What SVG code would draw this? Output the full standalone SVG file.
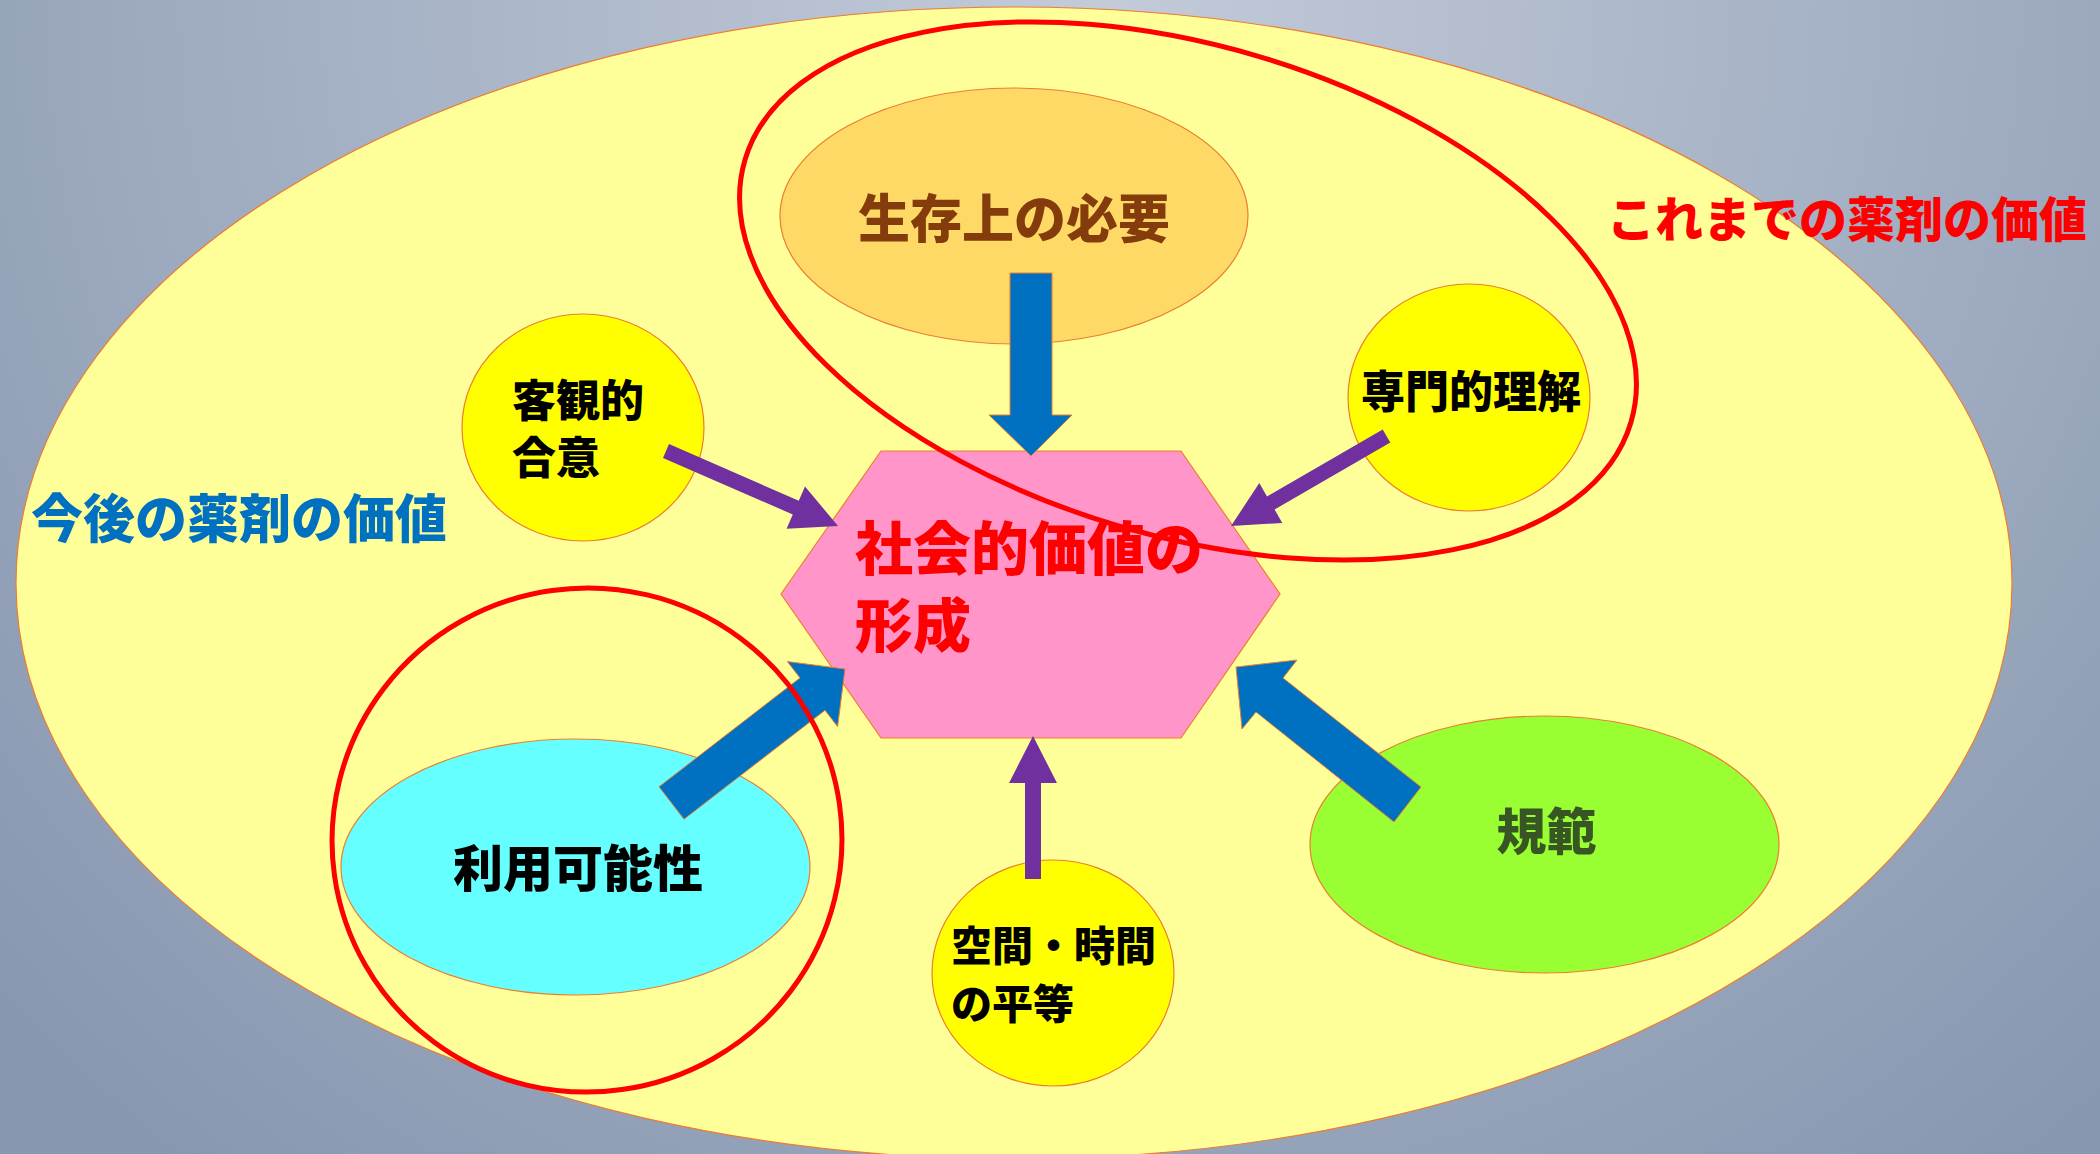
<svg xmlns="http://www.w3.org/2000/svg" width="2100" height="1154" viewBox="0 0 2100 1154">
  <defs>
    <radialGradient id="bg" cx="1100" cy="0" r="1500" gradientUnits="userSpaceOnUse">
      <stop offset="0" stop-color="#c3cbd9"/>
      <stop offset="1" stop-color="#8797b0"/>
    </radialGradient>
    <style>
      .shape { stroke: #ed7d31; stroke-width: 1.2; }
      .blue { fill: #0070c0; stroke: #ed7d31; stroke-width: 1; }
      .purple { fill: #7030a0; }
      .ring { fill: none; stroke: #ff0000; stroke-width: 5; }
      text { font-family: "Noto Sans CJK JP", "Noto Sans CJK SC", sans-serif; font-weight: 900; }
    </style>
  </defs>

  <rect x="0" y="0" width="2100" height="1154" fill="url(#bg)"/>

  <g id="future-value">
    <ellipse class="shape" cx="1014" cy="583" rx="998" ry="576" fill="#ffff99"/>
    <text x="31" y="538" font-size="52" fill="#0070c0">今後の薬剤の価値</text>
  </g>

  <g id="past-value-label">
    <text x="1607" y="237" font-size="48" fill="#ff0000">これまでの薬剤の価値</text>
  </g>

  <g id="survival">
    <ellipse class="shape" cx="1014" cy="216" rx="234" ry="128" fill="#ffd966"/>
    <text x="1014" y="238" font-size="52" fill="#843c0c" text-anchor="middle">生存上の必要</text>
  </g>

  <g id="consensus">
    <ellipse class="shape" cx="583" cy="427.5" rx="121" ry="113.5" fill="#ffff00"/>
    <text x="512" y="417" font-size="44" fill="#000000">客観的</text>
    <text x="512" y="474" font-size="44" fill="#000000">合意</text>
  </g>

  <g id="expertise">
    <ellipse class="shape" cx="1469" cy="397.5" rx="121" ry="113.5" fill="#ffff00"/>
    <text x="1471" y="408" font-size="44" fill="#000000" text-anchor="middle">専門的理解</text>
  </g>

  <g id="availability">
    <ellipse class="shape" cx="575.5" cy="867" rx="234.5" ry="128" fill="#66ffff"/>
    <text x="578" y="887" font-size="50" fill="#000000" text-anchor="middle">利用可能性</text>
  </g>

  <g id="equality">
    <ellipse class="shape" cx="1053" cy="973" rx="121" ry="113" fill="#ffff00"/>
    <text x="951" y="961" font-size="41" fill="#000000">空間・時間</text>
    <text x="951" y="1019" font-size="41" fill="#000000">の平等</text>
  </g>

  <g id="norms">
    <ellipse class="shape" cx="1544.5" cy="844.5" rx="234.5" ry="128.5" fill="#99ff33"/>
    <text x="1546.5" y="850" font-size="50" fill="#375623" text-anchor="middle">規範</text>
  </g>

  <g id="social-value">
    <polygon class="shape" points="781,594 881,451 1181,451 1280,594 1181,738 881,738" fill="#ff95c9"/>
    <text x="855" y="570" font-size="58" fill="#ff0000">社会的価値の</text>
    <text x="855" y="647" font-size="58" fill="#ff0000">形成</text>
  </g>

  <g id="connectors">
    <polygon class="blue" points="1010,273 1052,273 1052,415 1072,415 1031,456 989,415 1010,415"/>
    <polygon class="purple" points="669,444.1 798.8,500.7 805,486.5 838,526 786.6,528.7 792.8,514.5 663,457.9"/>
    <polygon class="purple" points="1382.7,429.5 1267,496.5 1259.3,483.1 1231,526 1282.3,522.9 1274.6,509.5 1390.3,442.5"/>
    <polygon class="purple" points="1025,879 1025,783 1009,783 1033,736 1057,783 1041,783 1041,879"/>
    <polygon class="blue" points="659,786.8 800,677.9 787.4,661.6 845,669 837.6,726.6 825,710.3 684,819.2"/>
    <polygon class="blue" points="1421,787 1283,678 1297,660 1236,667 1242,729 1256,712 1394,822"/>
  </g>

  <g id="highlights">
    <ellipse class="ring" cx="1188" cy="291" rx="462" ry="245" transform="rotate(16.5 1188 291)"/>
    <ellipse class="ring" cx="587" cy="840" rx="255" ry="252" transform="rotate(-8 587 840)"/>
  </g>
</svg>
